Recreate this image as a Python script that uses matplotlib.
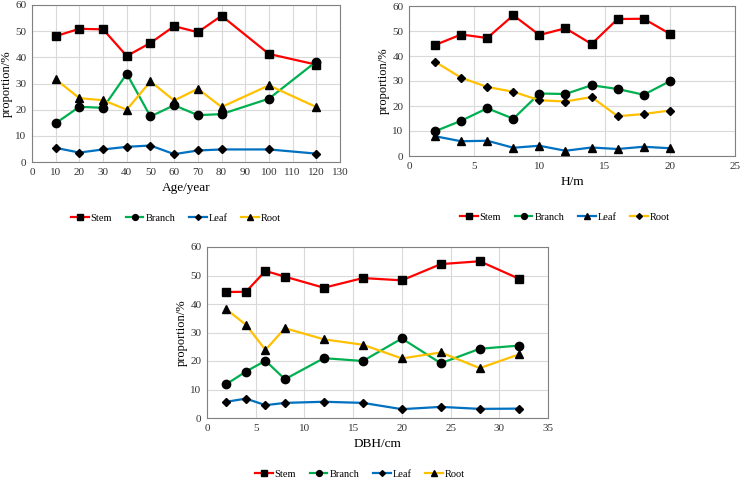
import numpy as np
import matplotlib
matplotlib.use("Agg")
from matplotlib import pyplot as plt

plt.rcParams['font.family'] = ['Liberation Serif', 'DejaVu Serif']

# Panel 1: age
age = [10, 20, 30, 40, 50, 60, 70, 80, 100, 120]
age_stem = [48.1, 50.9, 50.7, 40.5, 45.5, 51.9, 49.6, 55.9, 41.3, 37.2]
age_branch = [14.8, 21.1, 20.7, 33.7, 17.4, 21.7, 17.9, 18.3, 24.2, 38.4]
age_leaf = [5.4, 3.6, 4.8, 5.8, 6.3, 3.0, 4.4, 4.8, 4.8, 3.2]
age_root = [31.6, 24.4, 23.6, 20.0, 30.8, 23.5, 28.0, 21.0, 29.3, 21.0]

# Panel 2: height
height = [2, 4, 6, 8, 10, 12, 14, 16, 18, 20]
h_stem = [44.4, 48.6, 47.2, 56.3, 48.4, 51.1, 44.8, 54.8, 54.9, 48.9]
h_branch = [9.9, 14.1, 19.1, 14.9, 25.0, 24.8, 28.3, 26.8, 24.5, 29.9]
h_leaf = [7.9, 5.9, 6.1, 3.3, 4.1, 2.1, 3.4, 2.8, 3.7, 3.1]
h_root = [37.7, 31.3, 27.6, 25.7, 22.3, 21.8, 23.6, 15.9, 16.8, 18.2]

# Panel 3: DBH
dbh = [2, 4, 6, 8, 12, 16, 20, 24, 28, 32]
d_stem = [44.2, 44.3, 51.6, 49.6, 45.7, 49.1, 48.3, 54.0, 55.0, 48.9]
d_branch = [11.9, 16.3, 20.1, 13.6, 21.0, 20.0, 27.9, 19.2, 24.3, 25.4]
d_leaf = [5.7, 6.8, 4.5, 5.3, 5.7, 5.3, 3.1, 3.9, 3.2, 3.3]
d_root = [38.1, 32.7, 23.9, 31.5, 27.6, 25.7, 20.9, 23.0, 17.5, 22.3]

names = ["Stem", "Branch", "Leaf", "Root"]
colors = ["#FF0000", "#00B050", "#0070C0", "#FFC000"]

W, H = 744, 484
fig = plt.figure(figsize=(W / 100, H / 100), dpi=100)


def px_axes(x0, y0, x1, y1):
    return fig.add_axes([x0 / W, 1 - y1 / H, (x1 - x0) / W, (y1 - y0) / H])


def panel(ax, x, series, markers, xlim, xticks, xlabel):
    handles = []
    sizes = {"s": 6, "o": 6, "^": 5.5, "D": 4.2}
    for vals, c, m in zip(series, colors, markers):
        h, = ax.plot(x, vals, color=c, lw=1.6, marker=m, ms=sizes[m],
                     mfc="black", mec="black", zorder=3)
        handles.append(h)
    ax.set_xlim(*xlim)
    ax.set_ylim(0, 60)
    ax.set_xticks(xticks)
    ax.set_yticks(range(0, 61, 10))
    ax.grid(True, color="#d9d9d9", lw=0.8)
    ax.set_axisbelow(True)
    for s in ax.spines.values():
        s.set_color("#808080")
        s.set_linewidth(0.8)
    ax.tick_params(length=0, labelsize=8, pad=4, colors="#333333")
    ax.set_ylabel("proportion/%", fontsize=9, labelpad=2)
    ax.set_xlabel(xlabel, fontsize=9.5, labelpad=4)
    return handles


ax1 = px_axes(32, 5, 340, 162)
h1 = panel(ax1, age, [age_stem, age_branch, age_leaf, age_root],
           ["s", "o", "D", "^"], (0, 130), range(0, 131, 10), "Age/year")

ax2 = px_axes(409, 6, 735, 156)
h2 = panel(ax2, height, [h_stem, h_branch, h_leaf, h_root],
           ["s", "o", "^", "D"], (0, 25), range(0, 26, 5), "H/m")

ax3 = px_axes(207, 247, 548, 418)
h3 = panel(ax3, dbh, [d_stem, d_branch, d_leaf, d_root],
           ["s", "o", "D", "^"], (0, 35), range(0, 36, 5), "DBH/cm")

leg_kw = dict(ncol=4, frameon=False, fontsize=7.5, handlelength=1.7,
              columnspacing=1.3, handletextpad=0.2, markerscale=0.7)
fig.legend(h1, names, loc="center", bbox_to_anchor=(176 / W, 1 - 218 / H), **leg_kw)
fig.legend(h2, names, loc="center", bbox_to_anchor=(565 / W, 1 - 217 / H), **leg_kw)
fig.legend(h3, names, loc="center", bbox_to_anchor=(360 / W, 1 - 474 / H), **leg_kw)

fig.savefig("out.png", dpi=100)
